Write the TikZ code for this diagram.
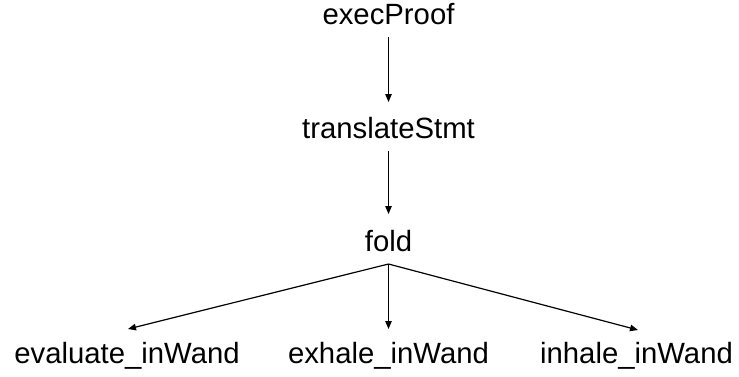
\documentclass[tikz,border=0pt]{standalone}
\usepackage{fontspec}
\setmainfont{Liberation Sans}
\usetikzlibrary{arrows.meta}
\begin{document}
\begin{tikzpicture}[x=1pt,y=-1pt,
  lbl/.style={anchor=base,inner xsep=0pt,inner ysep=7pt,outer sep=0pt,
    text height=22pt,text depth=6pt,font=\fontsize{29.3}{34}\selectfont},
  conn/.style={draw,line width=1.2pt,-{Triangle[length=8pt,width=6.5pt]}}]
\useasboundingbox (0,0) rectangle (739,376);
\node[lbl] (exec) at (388.5,24) {execProof};
\node[lbl] (trans) at (388.5,138) {translateStmt};
\node[lbl] (fold) at (388.5,251) {fold};
\node[lbl] (eval) at (127,363) {evaluate\_inWand};
\node[lbl] (exh) at (388.5,363) {exhale\_inWand};
\node[lbl] (inh) at (636.5,363) {inhale\_inWand};
\draw[conn,shorten >=7pt] (exec.south) -- (trans.north);
\draw[conn,shorten >=8pt] (trans.south) -- (fold.north);
\draw[conn] (fold.south) -- ([xshift=1pt,yshift=5pt]eval.north);
\draw[conn] (fold.south) -- ([yshift=5pt]exh.north);
\draw[conn] (fold.south) -- ([xshift=1.5pt,yshift=4pt]inh.north);
\end{tikzpicture}
\end{document}
